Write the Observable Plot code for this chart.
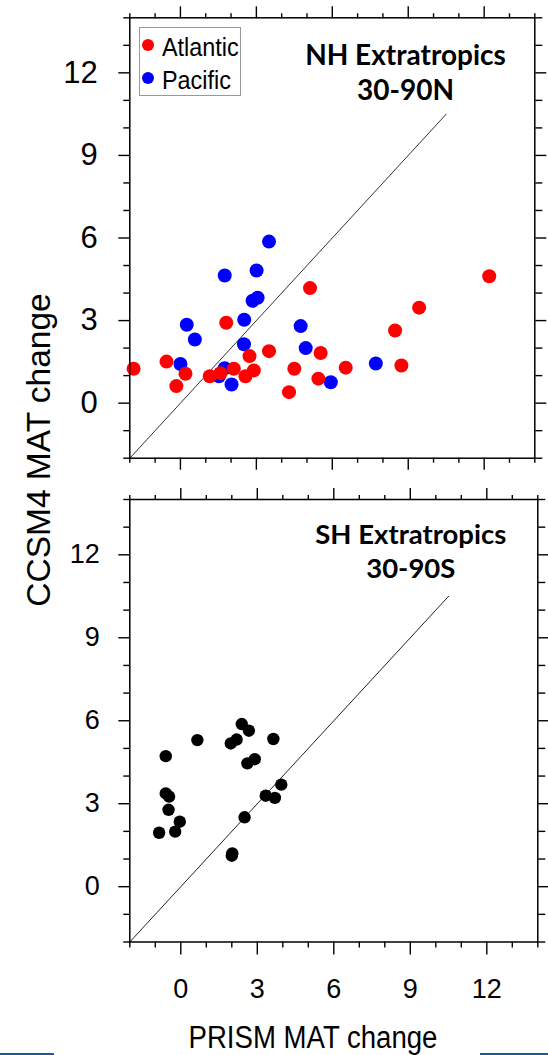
<!DOCTYPE html>
<html>
<head>
<meta charset="utf-8">
<script src="https://cdn.jsdelivr.net/npm/d3@7"></script>
<script src="https://cdn.jsdelivr.net/npm/@observablehq/plot@0.6"></script>
<style>
  html, body { margin: 0; padding: 0; background: #fff; }
  #wrap { position: relative; width: 548px; height: 1055px; overflow: hidden; font-family: "Liberation Sans", Arial, sans-serif; }
  #wrap svg { display: block; }
  .abs { position: absolute; white-space: nowrap; }
</style>
</head>
<body>
<div id="wrap"></div>
<script>
// ---------- data ----------
const nhAtlanticX = [-1.85, -0.55, -0.16, 0.20, 1.81, 1.16, 1.58, 2.11, 2.57, 2.90, 2.73, 3.50, 5.12, 4.50, 4.29, 5.54, 5.45, 6.53, 8.48, 8.73, 9.43, 12.20];
const nhAtlanticY = [1.25, 1.51, 0.62, 1.07, 2.92, 0.98, 1.09, 1.25, 0.98, 1.19, 1.71, 1.89, 4.18, 1.25, 0.40, 1.82, 0.89, 1.29, 2.64, 1.37, 3.47, 4.61];
const nhPacificX = [3.50, 1.75, 3.01, 2.85, 3.05, 2.52, 0.25, 0.57, 2.51, 0.00, 1.75, 1.52, 2.02, 4.75, 4.95, 5.94, 7.72];
const nhPacificY = [5.87, 4.64, 4.82, 3.72, 3.83, 3.03, 2.85, 2.31, 2.14, 1.42, 1.27, 0.98, 0.68, 2.80, 2.00, 0.76, 1.44];
const shX = [2.39, 2.67, 0.65, 1.96, 2.19, 3.63, -0.59, 2.61, 2.90, 3.94, 3.33, 3.69, -0.59, -0.46, -0.48, -0.04, -0.85, -0.22, 2.50, 2.02, 2.00];
const shY = [5.88, 5.64, 5.30, 5.18, 5.32, 5.34, 4.72, 4.46, 4.61, 3.69, 3.29, 3.21, 3.37, 3.26, 2.78, 2.35, 1.95, 1.99, 2.51, 1.20, 1.12];
const oneToOne = [-2, 10.5];
const axisDomain = [-2, 14];
const majorTicks = [0, 3, 6, 9, 12];
const minorTicks = [-2, -1, 1, 2, 4, 5, 7, 8, 10, 11, 13, 14];
const seriesNames = ["Atlantic", "Pacific"];
const seriesColors = ["#ff0000", "#0000ff"];
const nhTitle = "NH Extratropics\n30-90N";
const shTitle = "SH Extratropics\n30-90S";
const xTitle = "PRISM MAT change";
const yTitle = "CCSM4 MAT change";

// ---------- tables ----------
const nhAtlantic = nhAtlanticX.map((x, i) => ({x, y: nhAtlanticY[i]}));
const nhPacific = nhPacificX.map((x, i) => ({x, y: nhPacificY[i]}));
const sh = shX.map((x, i) => ({x, y: shY[i]}));
const diag = oneToOne.map(v => ({x: v, y: v}));

const blank = () => "";
function boxAxes(o) {
  return [
    Plot.axisX({anchor: "bottom", ticks: minorTicks, tickSize: o.bMinor, tickFormat: blank, label: null, strokeWidth: 1.4}),
    Plot.axisX({anchor: "bottom", ticks: majorTicks, tickSize: o.bMajor, tickFormat: o.xLabels ? (d => String(d)) : blank,
                tickPadding: o.xPad, fontSize: o.xFont, label: null, strokeWidth: 1.4}),
    Plot.axisX({anchor: "top", ticks: minorTicks, tickSize: 5, tickFormat: blank, label: null, strokeWidth: 1.4}),
    Plot.axisX({anchor: "top", ticks: majorTicks, tickSize: 12, tickFormat: blank, label: null, strokeWidth: 1.4}),
    Plot.axisY({anchor: "left", ticks: minorTicks, tickSize: 6, tickFormat: blank, label: null, strokeWidth: 1.4}),
    Plot.axisY({anchor: "left", ticks: majorTicks, tickSize: 11, tickFormat: d => String(d),
                tickPadding: o.yPad, fontSize: o.yFont, label: null, strokeWidth: 1.4}),
    Plot.axisY({anchor: "right", ticks: minorTicks, tickSize: 7, tickFormat: blank, label: null, strokeWidth: 1.4}),
    Plot.axisY({anchor: "right", ticks: majorTicks, tickSize: 11, tickFormat: blank, label: null, strokeWidth: 1.4}),
    Plot.frame({strokeWidth: 1.5})
  ];
}

const common = {
  width: 548,
  marginLeft: 129.3,
  x: {domain: axisDomain, axis: null},
  y: {domain: axisDomain, axis: null},
  style: {fontFamily: "Liberation Sans, Arial, sans-serif", color: "#000", background: "#fff", overflow: "visible"}
};

const topPlot = Plot.plot({
  ...common,
  height: 475,
  marginRight: 13.7,
  marginTop: 17.3,
  marginBottom: 17.3,
  marks: [
    Plot.line(diag, {x: "x", y: "y", stroke: "#333", strokeWidth: 1}),
    Plot.dot(nhPacific, {x: "x", y: "y", r: 7, fill: seriesColors[1]}),
    Plot.dot(nhAtlantic, {x: "x", y: "y", r: 7, fill: seriesColors[0]}),
    Plot.text([nhTitle], {frameAnchor: "top-left", dx: 275.7, dy: 22.5, lineAnchor: "top", textAnchor: "middle",
      fontSize: 28, fontWeight: "bold", fontFamily: "Lato", lineHeight: 1.25, fill: "#000"}),
    ...boxAxes({bMinor: 5, bMajor: 12, xLabels: false, xPad: 0, xFont: 10, yPad: 21, yFont: 31})
  ]
});

const bottomPlot = Plot.plot({
  ...common,
  height: 580,
  marginRight: 10.7,
  marginTop: 24,
  marginBottom: 113.5,
  marks: [
    Plot.line(diag, {x: "x", y: "y", stroke: "#222", strokeWidth: 1}),
    Plot.dot(sh, {x: "x", y: "y", r: 6.2, fill: "#000"}),
    Plot.text([shTitle], {frameAnchor: "top-left", dx: 281, dy: 21, lineAnchor: "top", textAnchor: "middle",
      fontSize: 27.5, fontWeight: "bold", fontFamily: "Lato", lineHeight: 1.22, fill: "#000"}),
    ...boxAxes({bMinor: 6, bMajor: 13, xLabels: true, xPad: 23.5, xFont: 27, yPad: 19, yFont: 27})
  ]
});

const wrap = document.getElementById("wrap");
wrap.appendChild(topPlot);
wrap.appendChild(bottomPlot);

// legend (inside the NH panel)
const legend = document.createElement("div");
legend.className = "abs";
legend.style.cssText = "left:139.3px;top:27.3px;width:102px;height:68.7px;border:1.5px solid #999;box-sizing:border-box;background:#fff;";
wrap.appendChild(legend);
seriesNames.forEach((name, i) => {
  const cy = [45, 78.3][i];
  const dot = document.createElement("div");
  dot.className = "abs";
  dot.style.cssText = `left:${148.3 - 6.2}px;top:${cy - 6.2}px;width:12.4px;height:12.4px;border-radius:50%;background:${seriesColors[i]};`;
  wrap.appendChild(dot);
  const t = document.createElement("div");
  t.className = "abs";
  t.textContent = name;
  t.style.cssText = `left:161.7px;top:${[34, 67.3][i]}px;font-size:26px;line-height:26px;transform:scaleX(0.9);transform-origin:left center;color:#000;`;
  wrap.appendChild(t);
});

// axis titles
const yt = document.createElement("div");
yt.className = "abs";
yt.textContent = yTitle;
yt.style.cssText = "left:38.5px;top:450px;font-size:33.5px;line-height:33.5px;transform:translate(-50%,-50%) rotate(-90deg);color:#000;";
wrap.appendChild(yt);

const xt = document.createElement("div");
xt.className = "abs";
xt.textContent = xTitle;
xt.style.cssText = "left:312.5px;top:1021.5px;font-size:31px;line-height:31px;transform:translateX(-50%) scaleX(0.89);color:#000;";
wrap.appendChild(xt);

// slide edge accents
[[0, 54], [480, 548]].forEach(([a, b]) => {
  const l = document.createElement("div");
  l.className = "abs";
  l.style.cssText = `left:${a}px;top:1052.5px;width:${b - a}px;height:2.5px;background:#1f5a94;`;
  wrap.appendChild(l);
});
</script>
</body>
</html>
